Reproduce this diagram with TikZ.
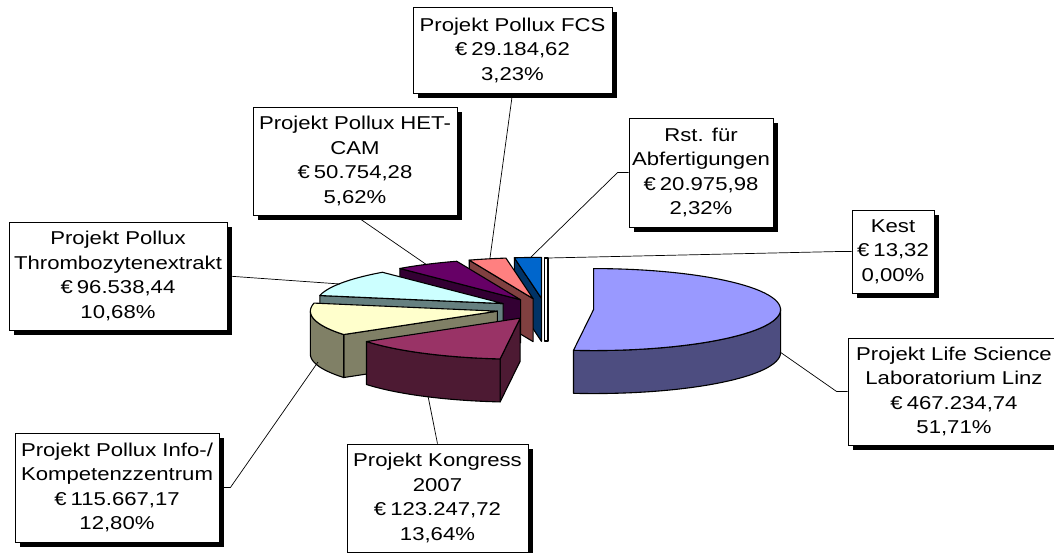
\documentclass[tikz,border=0pt]{standalone}
\usepackage{fontspec}
\setmainfont{Liberation Sans}[FakeStretch=1.19]
\usetikzlibrary{shadows}
\definecolor{lsTop}{RGB}{153,153,255}
\definecolor{lsSide}{RGB}{77,77,128}
\definecolor{konTop}{RGB}{153,51,102}
\definecolor{konSide}{RGB}{77,26,51}
\definecolor{infTop}{RGB}{255,255,204}
\definecolor{infSide}{RGB}{128,128,102}
\definecolor{thrTop}{RGB}{204,255,255}
\definecolor{thrSide}{RGB}{102,128,128}
\definecolor{hetTop}{RGB}{102,0,102}
\definecolor{hetSide}{RGB}{51,0,51}
\definecolor{fcsTop}{RGB}{255,128,128}
\definecolor{fcsSide}{RGB}{128,64,64}
\definecolor{rstTop}{RGB}{0,102,204}
\definecolor{rstSide}{RGB}{0,51,102}
\tikzset{
  lbl/.style={draw=black,line width=0.8pt,fill=white,align=center,inner sep=0pt,
    font=\fontsize{18.6}{24.5}\selectfont,
    drop shadow={shadow xshift=5pt,shadow yshift=-5pt,fill=black,opacity=1}},
  lead/.style={draw=black,line width=0.7pt},
  slice/.style={draw=black,line width=1.1pt,line join=round}
}
\newcommand{\eur}{€\kern4pt}
\begin{document}
\begin{tikzpicture}[x=1pt,y=-1pt]
	\useasboundingbox (0,0) rectangle (1054,553);
	\def\pieCx{545}\def\pieCy{309}\def\pieRx{187}\def\pieRy{41}\def\pieH{43}\def\pieD{0.26}
	% slices, back to front
	\filldraw[slice,fill=white] (544.5,258) rectangle (548,341);
	\foreach \a/\b/\ctop/\cside in {351.65/360/rstTop/rstSide,340.02/351.65/fcsTop/fcsSide,
			319.79/340.02/hetTop/hetSide,281.34/319.79/thrTop/thrSide,0/186.16/lsTop/lsSide,
			235.26/281.34/infTop/infSide,186.16/235.26/konTop/konSide}{
		\pgfmathsetmacro\m{(\a+\b)/2}
		\pgfmathsetmacro\ax{\pieCx+\pieD*\pieRx*sin(\m)}
		\pgfmathsetmacro\ay{\pieCy-\pieD*\pieRy*cos(\m)}
		\pgfmathsetmacro\px{\ax+\pieRx*sin(\a)}
		\pgfmathsetmacro\py{\ay-\pieRy*cos(\a)}
		\pgfmathtruncatemacro\face{sin(\a)<-0.001}
		\ifnum\face=1
			\filldraw[slice,fill=\cside] (\ax,\ay) -- (\px,\py) -- (\px,\py+\pieH) -- (\ax,\ay+\pieH) -- cycle;
		\fi
		\pgfmathsetmacro\sa{max(\a,90)}
		\pgfmathsetmacro\sb{min(\b,270)}
		\pgfmathtruncatemacro\wall{\sb>\sa}
		\ifnum\wall=1
			\filldraw[slice,fill=\cside] plot[domain=\sa:\sb,samples=40] ({\ax+\pieRx*sin(\x)},{\ay-\pieRy*cos(\x)})
				-- plot[domain=\sb:\sa,samples=40] ({\ax+\pieRx*sin(\x)},{\ay-\pieRy*cos(\x)+\pieH}) -- cycle;
		\fi
		\filldraw[slice,fill=\ctop] (\ax,\ay) -- plot[domain=\a:\b,samples=60] ({\ax+\pieRx*sin(\x)},{\ay-\pieRy*cos(\x)}) -- cycle;
	}
	% labels
	\node[lbl,minimum width=199,minimum height=86] (fcs) at (512.5,50) {Projekt Pollux FCS\\\eur29.184,62\\3,23\%};
	\node[lbl,minimum width=204,minimum height=108] (het) at (355,161) {Projekt Pollux HET-\\CAM\\\eur50.754,28\\5,62\%};
	\node[lbl,minimum width=144,minimum height=109] (rst) at (701,172.5) {Rst. für\\Abfertigungen\\\eur20.975,98\\2,32\%};
	\node[lbl,minimum width=82,minimum height=83] (kest) at (893,251.5) {Kest\\\eur13,32\\0,00\%};
	\node[lbl,minimum width=212,minimum height=107] (ls) at (954,391.5) {Projekt Life Science\\Laboratorium Linz\\\eur467.234,74\\51,71\%};
	\node[lbl,minimum width=218,minimum height=108] (thr) at (118,276) {Projekt Pollux\\Thrombozytenextrakt\\\eur96.538,44\\10,68\%};
	\node[lbl,minimum width=204,minimum height=109] (inf) at (117,487.5) {Projekt Pollux Info-/\\Kompetenzzentrum\\\eur115.667,17\\12,80\%};
	\node[lbl,minimum width=181,minimum height=108] (kon) at (437.5,498) {Projekt Kongress\\2007\\\eur123.247,72\\13,64\%};
	% leader lines
	\coordinate (fcsEnd) at (490,258);
	\coordinate (hetEnd) at (427,265);
	\coordinate (rstEnd) at (530,258);
	\coordinate (kestEnd) at (548,258);
	\coordinate (lsEnd) at (780,352);
	\coordinate (thrEnd) at (340,284);
	\coordinate (infEnd) at (318,362);
	\coordinate (konEnd) at (428,396);
	\draw[lead] (fcs.south) -- (fcsEnd);
	\draw[lead] (het.south) -- (hetEnd);
	\draw[lead] (rst.west) -- ++(-11,0) -- (rstEnd);
	\draw[lead] (kest.west) -- ++(-12,0) -- (kestEnd);
	\draw[lead] (ls.west) -- ++(-11,0) -- (lsEnd);
	\draw[lead] (thr.east) -- (thrEnd);
	\draw[lead] (inf.east) -- ++(11,0) -- (infEnd);
	\draw[lead] (kon.north) -- (konEnd);
\end{tikzpicture}
\end{document}
